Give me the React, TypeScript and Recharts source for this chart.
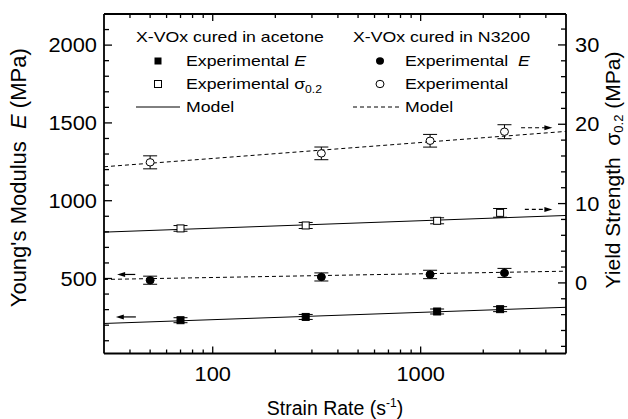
import React from 'react';
import {
  ComposedChart,
  ErrorBar,
  Legend,
  Line,
  ReferenceLine,
  Scatter,
  XAxis,
  YAxis,
} from 'recharts';

// strain rates (s^-1)
const acetoneRate = [70, 280, 1200, 2410];
const n3200Rate = [50, 333, 1110, 2530];
const modelRate = [30, 5000];

// Young's modulus E (MPa), left axis
const acetoneE = [232, 253, 288, 303];
const acetoneEErr = [16, 16, 16, 16];
const n3200E = [489, 510, 526, 536];
const n3200EErr = [26, 26, 27, 29];
const acetoneEModel = [211, 315];
const n3200EModel = [494, 547];

// yield strength sigma_0.2 (MPa), right axis
const acetoneSigma = [6.87, 7.24, 7.83, 8.83];
const acetoneSigmaErr = [0.36, 0.38, 0.38, 0.55];
const n3200Sigma = [15.2, 16.33, 17.92, 19.06];
const n3200SigmaErr = [0.82, 0.8, 0.8, 0.88];
const acetoneSigmaModel = [6.4, 8.5];
const n3200SigmaModel = [14.64, 19.1];

// ticks
const xMajor = [100, 1000];
const xTicks = [40, 50, 60, 70, 80, 90, 100, 200, 300, 400, 500, 600, 700, 800, 900, 1000, 2000, 3000, 4000];
const eMajor = [500, 1000, 1500, 2000];
const eTicks = [100, 200, 300, 400, 500, 600, 700, 800, 900, 1000, 1100, 1200, 1300, 1400, 1500, 1600, 1700, 1800, 1900, 2000, 2100];
const sMajor = [0, 10, 20, 30];
const sTicks = [-8, -6, -4, -2, 0, 2, 4, 6, 8, 10, 12, 14, 16, 18, 20, 22, 24, 26, 28, 30, 32];

// axis arrows (from -> to, in data units)
const arrowEN3200 = { from: 42.4, to: 34.7, y: 526 };
const arrowEAcetone = { from: 42.7, to: 34.2, y: 253 };
const arrowSN3200 = { from: 3040, to: 4300, y: 19.56 };
const arrowSAcetone = { from: 3170, to: 4300, y: 9.26 };

const FONT = "'Liberation Sans', Arial, Helvetica, sans-serif";

const pts = (xs: number[], ys: number[], errs?: number[]) =>
  xs.map((x, i) => ({ x, y: ys[i], err: errs ? errs[i] : 0 }));

function BottomTick({ x, y, payload }: any) {
  const major = xMajor.includes(payload.value);
  return (
    <g>
      <line x1={x} x2={x} y1={y} y2={y - (major ? 7 : 4)} stroke="#000" strokeWidth={1.3} />
      {major && (
        <text
          transform={`translate(${x},${y + 27}) scale(1.12,1)`}
          textAnchor="middle"
          fontSize={19.5}
          fontFamily={FONT}
          fill="#000"
        >
          {payload.value}
        </text>
      )}
    </g>
  );
}

function TopTick({ x, y, payload }: any) {
  const major = xMajor.includes(payload.value);
  return <line x1={x} x2={x} y1={y} y2={y + (major ? 7 : 4)} stroke="#000" strokeWidth={1.3} />;
}

function LeftTick({ x, y, payload }: any) {
  const major = eMajor.includes(payload.value);
  return (
    <g>
      <line x1={x} x2={x + (major ? 8 : 5)} y1={y} y2={y} stroke="#000" strokeWidth={1.3} />
      {major && (
        <text
          transform={`translate(${x - 7},${y + 7}) scale(1.12,1)`}
          textAnchor="end"
          fontSize={19.5}
          fontFamily={FONT}
          fill="#000"
        >
          {payload.value}
        </text>
      )}
    </g>
  );
}

function RightTick({ x, y, payload }: any) {
  const major = sMajor.includes(payload.value);
  return (
    <g>
      <line x1={x} x2={x - (major ? 8 : 5)} y1={y} y2={y} stroke="#000" strokeWidth={1.3} />
      {major && (
        <text
          transform={`translate(${x + 9},${y + 7}) scale(1.12,1)`}
          textAnchor="start"
          fontSize={19.5}
          fontFamily={FONT}
          fill="#000"
        >
          {payload.value}
        </text>
      )}
    </g>
  );
}

const square = (filled: boolean) => (p: any) =>
  <rect x={p.cx - 3.5} y={p.cy - 3.5} width={7} height={7} fill={filled ? '#000' : '#fff'} stroke="#000" strokeWidth={1} />;

const circle = (filled: boolean) => (p: any) =>
  <ellipse cx={p.cx} cy={p.cy} rx={4} ry={3.7} fill={filled ? '#000' : '#fff'} stroke="#000" strokeWidth={1} />;

const arrow = (dashed: boolean) => (p: any) => {
  const { x1, y1, x2, y2 } = p;
  const dir = Math.sign(x2 - x1);
  return (
    <g>
      <line x1={x1} y1={y1} x2={x2 - dir * 5} y2={y2} stroke="#000" strokeWidth={1.2} strokeDasharray={dashed ? '4 3' : undefined} />
      <polygon points={`${x2},${y2} ${x2 - dir * 8},${y2 - 2.5} ${x2 - dir * 8},${y2 + 2.5}`} fill="#000" />
    </g>
  );
};

function LeftTitle({ viewBox }: any) {
  const cx = viewBox.x + 26;
  const cy = viewBox.y + viewBox.height / 2 - 6;
  return (
    <text transform={`translate(${cx},${cy}) rotate(-90)`} textAnchor="middle" fontSize={22} fontFamily={FONT} fill="#000">
      Young's Modulus{'\u00a0\u00a0'}
      <tspan fontStyle="italic">E</tspan> (MPa)
    </text>
  );
}

function RightTitle({ viewBox }: any) {
  const cx = viewBox.x + 54;
  const cy = viewBox.y + 156;
  return (
    <text transform={`translate(${cx},${cy}) rotate(-90)`} textAnchor="middle" fontSize={21} fontFamily={FONT} fill="#000">
      Yield Strength{'\u00a0\u00a0'}σ
      <tspan fontSize={13} dy={3}>0.2</tspan>
      <tspan dy={-3}> (MPa)</tspan>
    </text>
  );
}

function BottomTitle({ viewBox }: any) {
  const cx = viewBox.x + viewBox.width / 2;
  return (
    <text x={cx} y={viewBox.y + 61} textAnchor="middle" fontSize={19.5} fontFamily={FONT} fill="#000">
      Strain Rate (s
      <tspan fontSize={12} dy={-8}>-1</tspan>
      <tspan dy={8}>)</tspan>
    </text>
  );
}

function Row({ left, cy, children }: any) {
  return (
    <div
      style={{
        position: 'absolute',
        left,
        top: cy - 9,
        height: 18,
        lineHeight: '18px',
        fontSize: 14.5,
        fontFamily: FONT,
        whiteSpace: 'nowrap',
        transform: 'scaleX(1.22)',
        transformOrigin: 'left center',
      }}
    >
      {children}
    </div>
  );
}

function Mark({ cx, cy, kind }: { cx: number; cy: number; kind: string }) {
  return (
    <svg style={{ position: 'absolute', left: cx - 26, top: cy - 6 }} width={52} height={12}>
      {kind === 'sq' && <rect x={22.5} y={2.5} width={7} height={7} fill="#000" />}
      {kind === 'osq' && <rect x={22.5} y={2.5} width={7} height={7} fill="#fff" stroke="#000" />}
      {kind === 'ci' && <ellipse cx={26} cy={6} rx={4} ry={3.7} fill="#000" />}
      {kind === 'oci' && <ellipse cx={26} cy={6} rx={4} ry={3.7} fill="#fff" stroke="#000" />}
      {kind === 'line' && <line x1={2} x2={46} y1={6} y2={6} stroke="#000" strokeWidth={1} />}
      {kind === 'dash' && <line x1={2} x2={48} y1={6} y2={6} stroke="#000" strokeWidth={1} strokeDasharray="4 3" />}
    </svg>
  );
}

function LegendBlock() {
  return (
    <div style={{ position: 'relative', width: 628, height: 130 }}>
      <Row left={136} cy={37}>X-VOx cured in acetone</Row>
      <Mark cx={158} cy={61} kind="sq" />
      <Row left={186} cy={61}>
        Experimental <i>E</i>
      </Row>
      <Mark cx={158} cy={84} kind="osq" />
      <Row left={186} cy={84}>
        Experimental σ<sub style={{ fontSize: 10, lineHeight: 0, verticalAlign: '-4px' }}>0.2</sub>
      </Row>
      <Mark cx={160} cy={107} kind="line" />
      <Row left={186} cy={107}>Model</Row>

      <Row left={353} cy={37}>X-VOx cured in N3200</Row>
      <Mark cx={380} cy={61} kind="ci" />
      <Row left={405} cy={61}>
        Experimental{'\u00a0'} <i>E</i>
      </Row>
      <Mark cx={380} cy={84} kind="oci" />
      <Row left={405} cy={84}>Experimental</Row>
      <Mark cx={377} cy={107} kind="dash" />
      <Row left={405} cy={107}>Model</Row>
    </div>
  );
}

export default function App() {
  return (
    <div style={{ position: 'absolute', left: 0, top: 0, width: 628, height: 419, background: '#fff' }}>
      <ComposedChart width={628} height={419} margin={{ top: 0, right: 0, bottom: 0, left: 0 }}>
        <XAxis
          xAxisId="b"
          dataKey="x"
          type="number"
          scale="log"
          domain={[30, 5000]}
          allowDataOverflow
          ticks={xTicks}
          interval={0}
          tick={<BottomTick />}
          tickLine={false}
          tickSize={0}
          tickMargin={0}
          height={65.5}
          axisLine={{ stroke: '#000', strokeWidth: 1.8 }}
          label={{ content: (p: any) => <BottomTitle {...p} /> }}
        />
        <XAxis
          xAxisId="t"
          orientation="top"
          dataKey="x"
          type="number"
          scale="log"
          domain={[30, 5000]}
          allowDataOverflow
          ticks={xTicks}
          interval={0}
          tick={<TopTick />}
          tickLine={false}
          tickSize={0}
          tickMargin={0}
          height={14}
          axisLine={{ stroke: '#000', strokeWidth: 1.8 }}
        />
        <YAxis
          yAxisId="E"
          dataKey="y"
          type="number"
          domain={[18, 2200]}
          allowDataOverflow
          ticks={eTicks}
          interval={0}
          tick={<LeftTick />}
          tickLine={false}
          tickSize={0}
          tickMargin={0}
          width={104}
          axisLine={{ stroke: '#000', strokeWidth: 1.8 }}
          label={{ content: (p: any) => <LeftTitle {...p} /> }}
        />
        <YAxis
          yAxisId="S"
          orientation="right"
          dataKey="y"
          type="number"
          domain={[-8.9, 33.9]}
          allowDataOverflow
          ticks={sTicks}
          interval={0}
          tick={<RightTick />}
          tickLine={false}
          tickSize={0}
          tickMargin={0}
          width={62}
          axisLine={{ stroke: '#000', strokeWidth: 1.8 }}
          label={{ content: (p: any) => <RightTitle {...p} /> }}
        />

        <Line data={pts(modelRate, acetoneEModel)} dataKey="y" xAxisId="b" yAxisId="E" type="linear" stroke="#000" strokeWidth={1} dot={false} isAnimationActive={false} />
        <Line data={pts(modelRate, n3200EModel)} dataKey="y" xAxisId="b" yAxisId="E" type="linear" stroke="#000" strokeWidth={1} strokeDasharray="4 3" dot={false} isAnimationActive={false} />
        <Line data={pts(modelRate, acetoneSigmaModel)} dataKey="y" xAxisId="b" yAxisId="S" type="linear" stroke="#000" strokeWidth={1} dot={false} isAnimationActive={false} />
        <Line data={pts(modelRate, n3200SigmaModel)} dataKey="y" xAxisId="b" yAxisId="S" type="linear" stroke="#000" strokeWidth={1} strokeDasharray="4 3" dot={false} isAnimationActive={false} />

        <Scatter data={pts(acetoneRate, acetoneE, acetoneEErr)} xAxisId="b" yAxisId="E" shape={square(true)} isAnimationActive={false}>
          <ErrorBar dataKey="err" direction="y" width={7} stroke="#000" strokeWidth={1} />
        </Scatter>
        <Scatter data={pts(n3200Rate, n3200E, n3200EErr)} xAxisId="b" yAxisId="E" shape={circle(true)} isAnimationActive={false}>
          <ErrorBar dataKey="err" direction="y" width={7} stroke="#000" strokeWidth={1} />
        </Scatter>
        <Scatter data={pts(acetoneRate, acetoneSigma, acetoneSigmaErr)} xAxisId="b" yAxisId="S" shape={square(false)} isAnimationActive={false}>
          <ErrorBar dataKey="err" direction="y" width={7} stroke="#000" strokeWidth={1} />
        </Scatter>
        <Scatter data={pts(n3200Rate, n3200Sigma, n3200SigmaErr)} xAxisId="b" yAxisId="S" shape={circle(false)} isAnimationActive={false}>
          <ErrorBar dataKey="err" direction="y" width={7} stroke="#000" strokeWidth={1} />
        </Scatter>

        <ReferenceLine xAxisId="b" yAxisId="E" segment={[{ x: arrowEN3200.from, y: arrowEN3200.y }, { x: arrowEN3200.to, y: arrowEN3200.y }]} shape={arrow(false)} />
        <ReferenceLine xAxisId="b" yAxisId="E" segment={[{ x: arrowEAcetone.from, y: arrowEAcetone.y }, { x: arrowEAcetone.to, y: arrowEAcetone.y }]} shape={arrow(false)} />
        <ReferenceLine xAxisId="b" yAxisId="S" segment={[{ x: arrowSN3200.from, y: arrowSN3200.y }, { x: arrowSN3200.to, y: arrowSN3200.y }]} shape={arrow(true)} />
        <ReferenceLine xAxisId="b" yAxisId="S" segment={[{ x: arrowSAcetone.from, y: arrowSAcetone.y }, { x: arrowSAcetone.to, y: arrowSAcetone.y }]} shape={arrow(true)} />

        <Legend
          content={() => <LegendBlock />}
          layout="horizontal"
          verticalAlign="middle"
          align="center"
          wrapperStyle={{ position: 'absolute', left: 0, top: 0, width: 628, height: 130, pointerEvents: 'none' }}
        />
      </ComposedChart>
    </div>
  );
}
